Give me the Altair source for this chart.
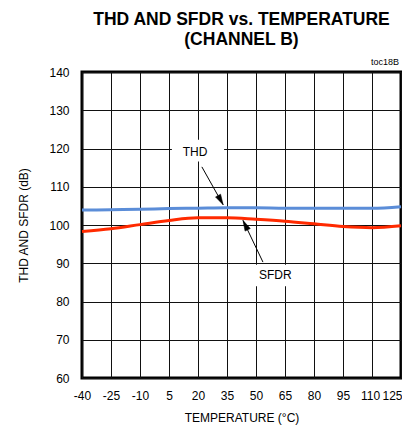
import altair as alt
import pandas as pd

temps = [-40, -25, -10, 5, 20, 35, 50, 65, 80, 95, 110, 125]
thd = [103.9, 104.0, 104.1, 104.3, 104.4, 104.5, 104.5, 104.4, 104.4, 104.35, 104.35, 104.8]
sfdr = [98.3, 99.0, 100.1, 101.2, 101.9, 101.9, 101.5, 101.0, 100.3, 99.6, 99.3, 99.8]

x_ticks = [-40, -25, -10, 5, 20, 35, 50, 65, 80, 95, 110, 125]
y_ticks = [60, 70, 80, 90, 100, 110, 120, 130, 140]

# annotation labels (data coordinates)
ann_text = ["THD", "SFDR"]
ann_x = [18.5, 60.0]
ann_y = [119.2, 86.9]
box_x1 = [6.5, 39.0]
box_x2 = [33.5, 75.5]
box_y1 = [116.6, 84.0]
box_y2 = [122.3, 89.6]
arr_x1 = [22.0, 53.6]
arr_y1 = [115.2, 90.3]
arr_x2 = [33.0, 43.3]
arr_y2 = [105.3, 101.2]
arr_angle = [151, 334]

rows = []
for t, a, b in zip(temps, thd, sfdr):
    rows.append({"t": t, "v": a, "s": "THD"})
    rows.append({"t": t, "v": b, "s": "SFDR"})
df = pd.DataFrame(rows)

ann = pd.DataFrame({
    "text": ann_text, "x": ann_x, "y": ann_y,
    "bx1": box_x1, "bx2": box_x2, "by1": box_y1, "by2": box_y2,
    "ax1": arr_x1, "ay1": arr_y1, "ax2": arr_x2, "ay2": arr_y2, "ang": arr_angle,
})

xs = alt.Scale(domain=[-40, 125], nice=False, zero=False)
ys = alt.Scale(domain=[60, 140], nice=False, zero=False)

xaxis = alt.Axis(
    values=x_ticks, title="TEMPERATURE  (°C)", ticks=False, domain=False,
    grid=True, gridColor="#111", gridWidth=1, gridOpacity=1, labelOverlap=False,
    labelExpr="'' + datum.value",
    labelOffset=alt.ExprRef(expr="datum.value == 125 ? -9 : (datum.value == 110 ? -2 : 0)"),
    labelPadding=12, titlePadding=11, labelFlush=False)
yaxis = alt.Axis(
    values=y_ticks, title="THD AND SFDR (dB)", ticks=False, domain=False,
    grid=True, gridColor="#111", gridWidth=1, gridOpacity=1, labelOverlap=False,
    labelPadding=13, titlePadding=18)

lines = alt.Chart(df).mark_line(strokeWidth=3, interpolate="monotone").encode(
    x=alt.X("t:Q", scale=xs, axis=xaxis),
    y=alt.Y("v:Q", scale=ys, axis=yaxis),
    color=alt.Color("s:N", scale=alt.Scale(domain=["THD", "SFDR"], range=["#5B8DD8", "#FF2A00"]), legend=None),
)

boxes = alt.Chart(ann).mark_rect(fill="white").encode(
    x=alt.X("bx1:Q", scale=xs, axis=xaxis), x2="bx2:Q",
    y=alt.Y("by1:Q", scale=ys, axis=yaxis), y2="by2:Q",
)

labels = alt.Chart(ann).mark_text(fontSize=12, font="Liberation Sans", color="black").encode(
    x=alt.X("x:Q", scale=xs, axis=xaxis), y=alt.Y("y:Q", scale=ys, axis=yaxis), text="text:N")

arrows = alt.Chart(ann).mark_rule(color="black", strokeWidth=1).encode(
    x=alt.X("ax1:Q", scale=xs, axis=xaxis), y=alt.Y("ay1:Q", scale=ys, axis=yaxis), x2="ax2:Q", y2="ay2:Q")

heads = alt.Chart(ann).mark_point(shape="M0,0L-0.55,2L0.55,2Z", filled=True, fill="black",
                                  stroke="black", strokeWidth=0.5, opacity=1, size=110).encode(
    x=alt.X("ax2:Q", scale=xs, axis=xaxis), y=alt.Y("ay2:Q", scale=ys, axis=yaxis),
    angle=alt.Angle("ang:Q", scale=None))

toc = alt.Chart(pd.DataFrame({"x": [125], "y": [140], "t": ["toc18B"]})).mark_text(
    fontSize=9, font="Liberation Sans", align="right", baseline="bottom", dy=-5, dx=-2, color="black").encode(
    x=alt.X("x:Q", scale=xs, axis=xaxis), y=alt.Y("y:Q", scale=ys, axis=yaxis), text="t:N")

chart = alt.layer(boxes, lines, arrows, heads, labels, toc).properties(
    width=319, height=306,
    autosize=alt.AutoSizeParams(type="none"),
    padding={"left": 74, "top": 64, "right": 1, "bottom": 47},
    title=alt.TitleParams(["THD AND SFDR vs. TEMPERATURE", "(CHANNEL B)"],
                          font="Liberation Sans", fontSize=17.5, fontWeight="bold",
                          anchor="middle", offset=10, lineHeight=20, color="black"),
).configure_view(stroke="black", strokeWidth=3).configure_axis(
    labelFont="Liberation Sans", labelFontSize=12, labelColor="black",
    titleFont="Liberation Sans", titleFontSize=12, titleFontWeight="normal", titleColor="black",
)

chart.save("out.html", embed_options={"renderer": "svg", "actions": False})
